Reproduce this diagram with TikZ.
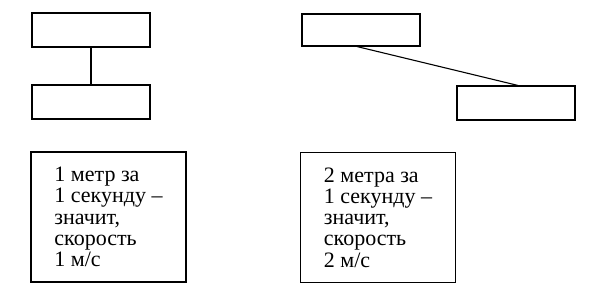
\documentclass[tikz,border=0pt]{standalone}
\usepackage{fontspec}
\setmainfont{Liberation Serif}
\newfontfamily\notefont[Ligatures=TeX]{Liberation Serif}
\usetikzlibrary{positioning}
\tikzset{
  sk/base/.style={draw=black, line width=1.1pt, inner sep=0pt},
  sk/bar/.style={sk/base, minimum width=118pt, minimum height=34pt},
  sk/speed/.style={sk/base, minimum width=155pt, minimum height=130pt,
    align=left, font=\notefont\fontsize{22}{21.25}\selectfont},
  sk/link/.style={draw=black, line width=1.1pt},
}

\begin{document}
\begin{tikzpicture}[x=1pt, y=-1pt]
\useasboundingbox (0,0) rectangle (600,301);
% one metre per second
\node[sk/bar] (slowTop) at (91,30) {};
\node[sk/bar] (slowBot) at (91,102) {};
\draw[sk/link] (slowTop) -- (slowBot);
\node[sk/speed] (slowNote) at (108.5,217) {1 метр за\\1 секунду –\\значит,\\скорость\\1 м/с};
% two metres per second
\node[sk/bar, minimum height=32pt] (fastTop) at (361,30) {};
\node[sk/bar] (fastBot) at (516,103) {};
\draw[sk/link] ([xshift=-4pt]fastTop.south) -- ([xshift=2pt]fastBot.north);
\node[sk/speed] (fastNote) at (378,217.5) {2 метра за\\1 секунду –\\значит,\\скорость\\2 м/с};
\end{tikzpicture}
\end{document}
